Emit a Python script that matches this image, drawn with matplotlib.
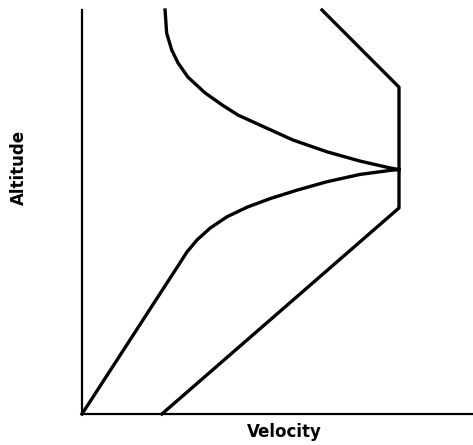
import matplotlib
matplotlib.use("Agg")
import matplotlib.pyplot as plt

# Values (velocity 0-100 at the vertical limit, altitude 0-100)
# Curve rising from origin, bending into the merge point
low_x = [0, 30.9, 33.1, 36.3, 40.4, 45.7, 52.1, 59.3, 67.8, 77.3, 87.7, 97.2, 100]
low_y = [0, 37.4, 40.1, 43.1, 46.0, 48.8, 51.2, 53.3, 55.4, 57.5, 59.3, 60.3, 60.5]

# Curve descending from top toward the merge point
high_x = [26.2, 26.7, 28.3, 30.3, 33.4, 38.8, 44.2, 49.2, 56.2, 66.6, 77.3, 87.7, 97.2, 100]
high_y = [100, 94.3, 90.1, 86.9, 83.4, 79.5, 76.5, 74.0, 71.5, 67.8, 64.9, 62.6, 60.9, 60.5]

# Boundary: diagonal, vertical segment, diagonal back
bound_x = [25.2, 100, 100, 75.7]
bound_y = [0, 51.0, 80.9, 100]

W, H = 473, 445
fig = plt.figure(figsize=(W / 100, H / 100), dpi=100)
ax = fig.add_axes([82 / W, (H - 414) / H, (W - 82) / W, (414 - 10) / H])

for xs, ys in [(low_x, low_y), (high_x, high_y), (bound_x, bound_y)]:
    ax.plot(xs, ys, color="black", lw=2.4, solid_joinstyle="round", clip_on=False)

ax.set_xlim(0, (W - 82) / (399 - 82) * 100)
ax.set_ylim(0, 100)
ax.set_xticks([])
ax.set_yticks([])
for side in ("top", "right"):
    ax.spines[side].set_visible(False)
for side in ("left", "bottom"):
    ax.spines[side].set_linewidth(1.6)

fig.text(284 / W, 1 - 432 / H, "Velocity", ha="center", va="center",
         fontsize=12, fontweight="bold")
fig.text(19 / W, 1 - 167 / H, "Altitude", ha="center", va="center",
         rotation=90, fontsize=12, fontweight="bold")

fig.savefig("out.png", dpi=100)
